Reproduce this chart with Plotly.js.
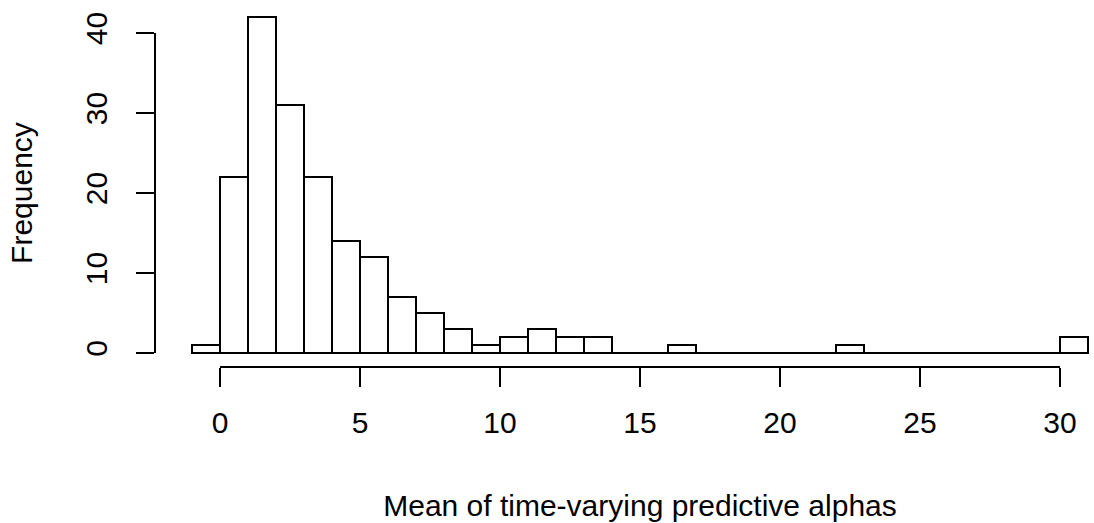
<!DOCTYPE html>
<html>
<head>
<meta charset="utf-8">
<script src="https://cdn.plot.ly/plotly-3.0.1.min.js"></script>
<style>html,body{margin:0;padding:0;background:#fff;}</style>
</head>
<body>
<div id="chart" style="width:1094px;height:523px;"></div>
<script>
// Histogram bins (left edges, width 1) and frequencies
const binStarts = [-1,0,1,2,3,4,5,6,7,8,9,10,11,12,13,14,15,16,17,18,19,20,21,22,23,24,25,26,27,28,29,30];
const counts    = [1,22,42,31,22,14,12,7,5,3,1,2,3,2,2,0,0,1,0,0,0,0,0,1,0,0,0,0,0,0,0,2];
const binWidth = 1;
const xTicks = [0,5,10,15,20,25,30];
const yTicks = [0,10,20,30,40];
const xTitle = "Mean of time-varying predictive alphas";
const yTitle = "Frequency";

const W = 1094, H = 523;
// pixel layout (R-style detached axes)
const x0px = 220, pxPerX = 28;   // x=0 at 220px
const y0px = 353, pxPerY = 8;    // y=0 at 353px
const px = v => v / W;
const py = v => 1 - v / H;
const font = "Liberation Sans, Arial, sans-serif";

const bars = {
  type: 'bar',
  x: binStarts,
  y: counts,
  width: binStarts.map(() => binWidth),
  offset: 0,
  marker: {color: '#ffffff', line: {color: '#000000', width: 2}},
  xaxis: 'x', yaxis: 'y',
  hoverinfo: 'x+y',
  showlegend: false
};

// empty helper trace so the detached R-style axes (x2/y2) are drawn
const axisHolder = {
  type: 'scatter', mode: 'markers', x: [], y: [],
  xaxis: 'x2', yaxis: 'y2', showlegend: false, hoverinfo: 'skip'
};

const layout = {
  width: W, height: H,
  margin: {l: 0, r: 0, t: 0, b: 0, pad: 0},
  paper_bgcolor: '#ffffff',
  plot_bgcolor: 'rgba(0,0,0,0)',
  showlegend: false,
  bargap: 0,
  font: {family: font, color: '#000000', size: 30},
  xaxis: {
    domain: [0, 1],
    range: [-x0px / pxPerX, (W - x0px) / pxPerX],
    visible: false, fixedrange: true
  },
  yaxis: {
    domain: [0, 1],
    range: [(y0px - H) / pxPerY, y0px / pxPerY],
    visible: false, fixedrange: true
  },
  xaxis2: {
    domain: [px(x0px + pxPerX * xTicks[0]), px(x0px + pxPerX * xTicks[xTicks.length - 1])],
    range: [xTicks[0], xTicks[xTicks.length - 1]],
    anchor: 'free',
    position: py(367),
    showline: true, linecolor: '#000', linewidth: 2,
    ticks: 'outside', ticklen: 19, tickwidth: 2, tickcolor: '#000',
    tickmode: 'array', tickvals: xTicks, ticktext: xTicks.map(String),
    tickfont: {family: font, size: 30, color: '#000'},
    ticklabelstandoff: 10,
    showgrid: false, zeroline: false, fixedrange: true,
    title: {text: xTitle, font: {family: font, size: 30, color: '#000'}, standoff: 56}
  },
  yaxis2: {
    domain: [py(y0px), py(y0px - pxPerY * yTicks[yTicks.length - 1])],
    range: [yTicks[0], yTicks[yTicks.length - 1]],
    anchor: 'free',
    position: px(155),
    side: 'left',
    showline: true, linecolor: '#000', linewidth: 2,
    ticks: 'outside', ticklen: 18, tickwidth: 2, tickcolor: '#000',
    tickmode: 'array', tickvals: yTicks, ticktext: yTicks.map(String),
    tickangle: -90,
    tickfont: {family: font, size: 30, color: '#000'},
    ticklabelstandoff: 17,
    showgrid: false, zeroline: false, fixedrange: true,
    title: {text: yTitle, font: {family: font, size: 30, color: '#000'}, standoff: 38}
  }
};

Plotly.newPlot('chart', [bars, axisHolder], layout, {displayModeBar: false, staticPlot: true});
</script>
</body>
</html>
